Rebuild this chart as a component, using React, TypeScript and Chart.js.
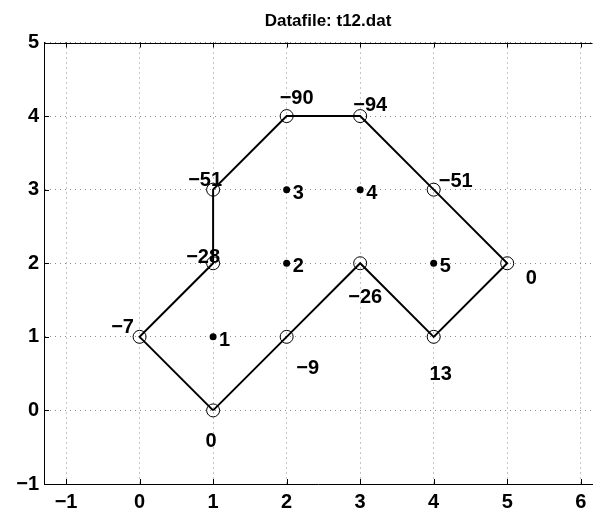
import React, { useEffect, useRef } from "react";
import { Chart, registerables } from "chart.js";

Chart.register(...registerables);

const titleText = "Datafile: t12.dat";
const xTicks = [-1, 0, 1, 2, 3, 4, 5, 6];
const yTicks = [-1, 0, 1, 2, 3, 4, 5];

// polygon outline (closed)
const pathX = [1, 2, 3, 4, 5, 4, 3, 2, 1, 1, 0, 1];
const pathY = [0, 1, 2, 1, 2, 3, 4, 4, 3, 2, 1, 0];

// vertices with their values
const vertexX = [1, 2, 3, 4, 5, 4, 3, 2, 1, 1, 0];
const vertexY = [0, 1, 2, 1, 2, 3, 4, 4, 3, 2, 1];
const vertexValues = [0, -9, -26, 13, 0, -51, -94, -90, -51, -28, -7];

// interior points
const pointX = [1, 2, 2, 3, 4];
const pointY = [1, 2, 3, 3, 2];
const pointLabels = ["1", "2", "3", "4", "5"];

// label placement (pixel offsets from the vertex to the text centre)
const vertexLabelOffsets: [number, number][] = [
  [-2, 30],
  [21, 30],
  [5, 33],
  [7, 36],
  [24, 14],
  [22, -10],
  [10, -12],
  [10, -19],
  [-8, -11],
  [-10, -7],
  [-17, -11],
];

const FONT = '"Liberation Sans", Arial, Helvetica, sans-serif';
const fmt = (v: number) => (v < 0 ? "\u2212" + Math.abs(v) : String(v));

const overlay = {
  id: "overlay",
  afterDraw(chart: any) {
    const { ctx, chartArea, scales } = chart;
    const { left, top, right, bottom } = chartArea;
    const x = scales.x;
    const y = scales.y;
    ctx.save();
    ctx.strokeStyle = "#000";
    ctx.lineWidth = 1;
    ctx.setLineDash([]);
    // top box line
    ctx.beginPath();
    ctx.moveTo(left, Math.round(top) + 0.5);
    ctx.lineTo(right, Math.round(top) + 0.5);
    ctx.stroke();
    // inward tick marks
    const tl = 5;
    xTicks.forEach((v) => {
      const px = Math.round(x.getPixelForValue(v)) + 0.5;
      ctx.beginPath();
      ctx.moveTo(px, bottom);
      ctx.lineTo(px, bottom - tl);
      ctx.moveTo(px, top);
      ctx.lineTo(px, top + tl);
      ctx.stroke();
    });
    yTicks.forEach((v) => {
      const py = Math.round(y.getPixelForValue(v)) + 0.5;
      ctx.beginPath();
      ctx.moveTo(left, py);
      ctx.lineTo(left + tl, py);
      ctx.stroke();
    });
    // title
    ctx.fillStyle = "#000";
    ctx.font = "bold 17px " + FONT;
    ctx.textAlign = "center";
    ctx.textBaseline = "alphabetic";
    ctx.fillText(titleText, 328, 26);
    // vertex value labels
    ctx.font = "bold 20px " + FONT;
    vertexValues.forEach((val, i) => {
      const px = x.getPixelForValue(vertexX[i]);
      const py = y.getPixelForValue(vertexY[i]);
      const [dx, dy] = vertexLabelOffsets[i];
      ctx.textAlign = "center";
      ctx.fillText(fmt(val), px + dx, py + dy + 7);
    });
    // interior point labels
    pointLabels.forEach((lab, i) => {
      const px = x.getPixelForValue(pointX[i]);
      const py = y.getPixelForValue(pointY[i]);
      ctx.textAlign = "left";
      ctx.fillText(lab, px + 6, py + 2 + 7);
    });
    ctx.restore();
  },
};

export default function App() {
  const ref = useRef<HTMLCanvasElement>(null);
  useEffect(() => {
    if (!ref.current) return;
    const gridCfg = {
      display: true,
      color: "#8a8a8a",
      lineWidth: 1,
      drawTicks: false,
    };
    const chart = new Chart(ref.current, {
      type: "scatter",
      data: {
        datasets: [
          {
            data: pathX.map((v, i) => ({ x: v, y: pathY[i] })),
            showLine: true,
            borderColor: "#000",
            borderWidth: 2,
            pointRadius: 0,
            fill: false,
          },
          {
            data: vertexX.map((v, i) => ({ x: v, y: vertexY[i] })),
            showLine: false,
            pointRadius: 6.5,
            pointBorderWidth: 1,
            pointBorderColor: "#000",
            pointBackgroundColor: "rgba(0,0,0,0)",
          },
          {
            data: pointX.map((v, i) => ({ x: v, y: pointY[i] })),
            showLine: false,
            pointRadius: 3.5,
            pointBorderWidth: 0,
            pointBackgroundColor: "#000",
            pointBorderColor: "#000",
          },
        ],
      },
      options: {
        responsive: false,
        animation: false,
        events: [],
        layout: { padding: { top: 42.5, left: 0, right: 0, bottom: 0 } },
        plugins: {
          legend: { display: false },
          title: { display: false },
          tooltip: { enabled: false },
        },
        scales: {
          x: {
            type: "linear",
            min: -1.3,
            max: 6.16,
            afterFit: (s: any) => {
              s.height = 32;
            },
            afterBuildTicks: (s: any) => {
              s.ticks = xTicks.map((v) => ({ value: v }));
            },
            grid: { ...gridCfg },
            border: { display: true, color: "#000", width: 1, dash: [1, 4] },
            ticks: {
              padding: 6,
              color: "#000",
              font: { family: FONT, size: 20, weight: "bold" },
              maxRotation: 0,
              autoSkip: false,
              callback: (v: any) => fmt(Number(v)),
            },
          },
          y: {
            type: "linear",
            min: -1,
            max: 5,
            afterFit: (s: any) => {
              s.width = 44;
            },
            afterBuildTicks: (s: any) => {
              s.ticks = yTicks.map((v) => ({ value: v }));
            },
            grid: { ...gridCfg },
            border: { display: true, color: "#000", width: 1, dash: [1, 4] },
            ticks: {
              padding: 5,
              color: "#000",
              font: { family: FONT, size: 20, weight: "bold" },
              autoSkip: false,
              callback: (v: any) => fmt(Number(v)),
            },
          },
        },
      } as any,
      plugins: [overlay],
    });
    return () => chart.destroy();
  }, []);
  return (
    <div style={{ position: "fixed", left: 0, top: 0, width: 600, height: 516, background: "#fff" }}>
      <canvas ref={ref} width={600} height={516} style={{ width: 600, height: 516 }} />
    </div>
  );
}
